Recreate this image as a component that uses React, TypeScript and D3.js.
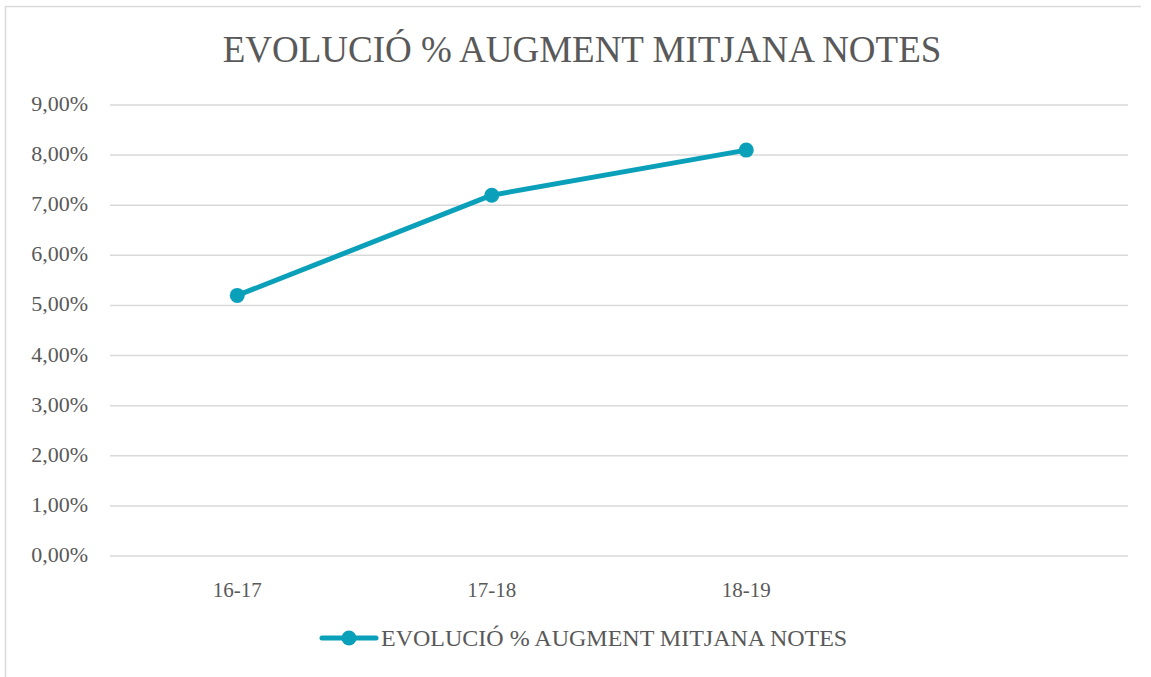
import React from "react";
import * as d3 from "d3";

const categories = ["16-17", "17-18", "18-19", ""];
const values = [0.052, 0.072, 0.081];
const yTicks = [0, 0.01, 0.02, 0.03, 0.04, 0.05, 0.06, 0.07, 0.08, 0.09];
const title = "EVOLUCIÓ % AUGMENT MITJANA NOTES";
const seriesName = "EVOLUCIÓ % AUGMENT MITJANA NOTES";

const W = 1151;
const H = 677;
const color = "#0aa0b9";
const textColor = "#595959";
const font = "'Liberation Serif', 'DejaVu Serif', serif";

export default function App() {
  const x = d3.scaleBand<string>().domain(categories.map((c, i) => String(i))).range([110, 1128]);
  const y = d3.scaleLinear().domain([0, 0.09]).range([556, 105]);
  const fmt = (v: number) => (v * 100).toFixed(2).replace(".", ",") + "%";
  const pts = values.map((v, i) => [x(String(i))! + x.bandwidth() / 2, y(v)] as [number, number]);
  const line = d3.line();

  return (
    <svg width={W} height={H} style={{ position: "absolute", left: 0, top: 0, background: "#fff" }}>
      <rect x={0} y={0} width={W} height={H} fill="#fff" />
      <line x1={5.5} y1={6} x2={5.5} y2={H} stroke="#d9d9d9" strokeWidth={1.5} />
      <line x1={5} y1={6.5} x2={1141} y2={6.5} stroke="#d9d9d9" strokeWidth={1.5} />
      <text x={582} y={62} textAnchor="middle" fontFamily={font} fontSize={37} fill={textColor}>{title}</text>
      {yTicks.map((t) => (
        <g key={t}>
          <line x1={110} x2={1128} y1={y(t)} y2={y(t)} stroke="#d9d9d9" strokeWidth={1.5} />
          <text x={88} y={y(t) + 6} textAnchor="end" fontFamily={font} fontSize={22} fill={textColor}>{fmt(t)}</text>
        </g>
      ))}
      {categories.map((c, i) => (
        <text key={i} x={x(String(i))! + x.bandwidth() / 2} y={597} textAnchor="middle" fontFamily={font} fontSize={21} fill={textColor}>{c}</text>
      ))}
      <path d={line(pts) || ""} fill="none" stroke={color} strokeWidth={5} strokeLinejoin="round" />
      {pts.map((p, i) => (
        <circle key={i} cx={p[0]} cy={p[1]} r={7.5} fill={color} />
      ))}
      <line x1={322} x2={376} y1={638} y2={638} stroke={color} strokeWidth={5} strokeLinecap="round" />
      <circle cx={349} cy={638} r={7.5} fill={color} />
      <text x={381} y={646} fontFamily={font} fontSize={24} fill={textColor}>{seriesName}</text>
    </svg>
  );
}
